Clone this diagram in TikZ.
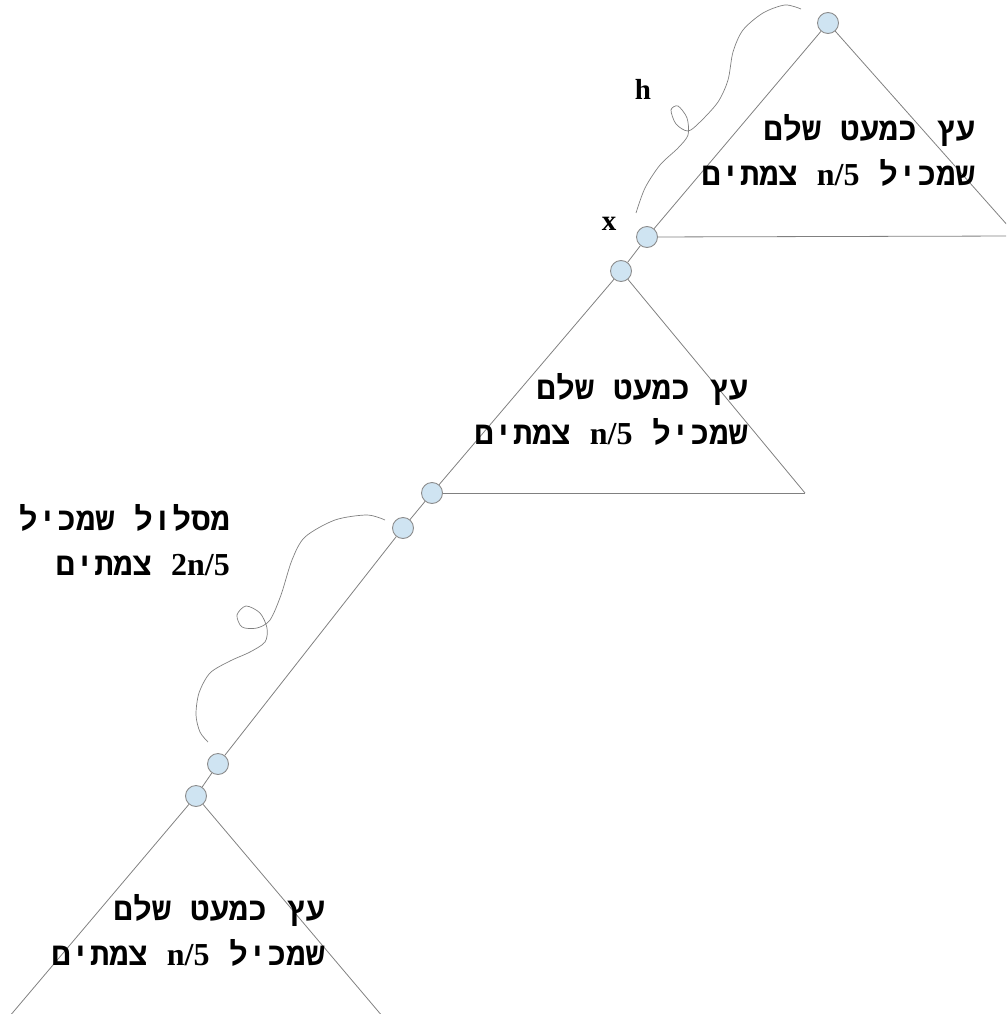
\documentclass[tikz,border=0pt]{standalone}
\usepackage{fontspec}
\setmainfont{Liberation Serif}
\newfontfamily\hebmono[Script=Hebrew]{Liberation Mono}
\TeXXeTstate=1
\definecolor{nodefill}{RGB}{207,228,242}
\definecolor{nodeline}{RGB}{140,140,140}
\definecolor{linegray}{RGB}{128,128,128}

\begin{document}
\begin{tikzpicture}[x=1pt,y=-1pt,
  vertex/.style={circle,draw=nodeline,fill=nodefill,line width=0.9pt,minimum size=21pt,inner sep=0pt},
  edge/.style={draw=linegray,line width=0.8pt},
  heb/.style={font=\hebmono\bfseries\fontsize{32}{36}\selectfont,inner sep=0pt,anchor=base east},
  lat/.style={font=\bfseries\fontsize{29}{32}\selectfont,inner sep=0pt}]
  % page frame
  \path[use as bounding box] (0,0) rectangle (1006,1014);
  \clip (0,0) rectangle (1006,1014);
  % spine of vertices
  \node[vertex] (t1) at (828,23) {};
  \node[vertex] (x) at (647,237) {};
  \node[vertex] (t2) at (621,271) {};
  \node[vertex] (m1) at (432,493) {};
  \node[vertex] (m2) at (403,528) {};
  \node[vertex] (b1) at (218,764) {};
  \node[vertex] (t3) at (196,796) {};
  % free corners of the three subtrees
  \coordinate (r1) at (1017,236);
  \coordinate (r2) at (805,493);
  \coordinate (l3) at (-2,1030);
  \coordinate (r3) at (394,1030);
  % triangles and path
  \draw[edge] (t1) -- (x);
  \draw[edge] (t1) -- (r1);
  \draw[edge] (x) -- (r1);
  \draw[edge] (x) -- (t2);
  \draw[edge] (t2) -- (m1);
  \draw[edge] (t2) -- (r2);
  \draw[edge] (m1) -- (r2);
  \draw[edge] (m1) -- (m2);
  \draw[edge] (m2) -- (b1);
  \draw[edge] (b1) -- (t3);
  \draw[edge] (t3) -- (l3);
  \draw[edge] (t3) -- (r3);
  % hand drawn braces
  \draw[edge,line width=0.7pt] plot[smooth] coordinates {(801,9) (785,5) (763,13) (743,30) (733,52)
    (728,80) (718,102) (700,122) (688,131) (676,124) (671,110) (678,106) (687,118) (688,135)
    (678,148) (660,165) (645,188) (636,213)};
  \draw[edge,line width=0.7pt] plot[smooth] coordinates {(385,520) (367,515) (335,520) (305,537)
    (292,560) (281,595) (270,620) (257,628) (242,627) (237,615) (246,606) (260,613) (267,628)
    (265,642) (250,652) (230,661) (210,673) (199,693) (196,715) (200,732) (208,742)};
  % labels
  \node[lat] (hlab) at (643,89) {h};
  \node[lat] (xlab) at (609,224) {x};
  \foreach \n/\px/\py in {top/975/140, mid/748/399, low/325/920} {
    \node[heb] (\n a) at (\px,\py) {\beginR עץ כמעט שלם\endR};
    \node[heb] (\n b) at (\px,\py+45) {\beginR שמכיל \beginL{\rmfamily\fontsize{32}{34}\selectfont n/5}\endL{} צמתים\endR};
  }
  \node[heb] (patha) at (230,530) {\beginR מסלול שמכיל\endR};
  \node[heb] (pathb) at (230,575) {\beginR \beginL{\rmfamily\fontsize{32}{34}\selectfont 2n/5}\endL{} צמתים\endR};
\end{tikzpicture}
\end{document}
